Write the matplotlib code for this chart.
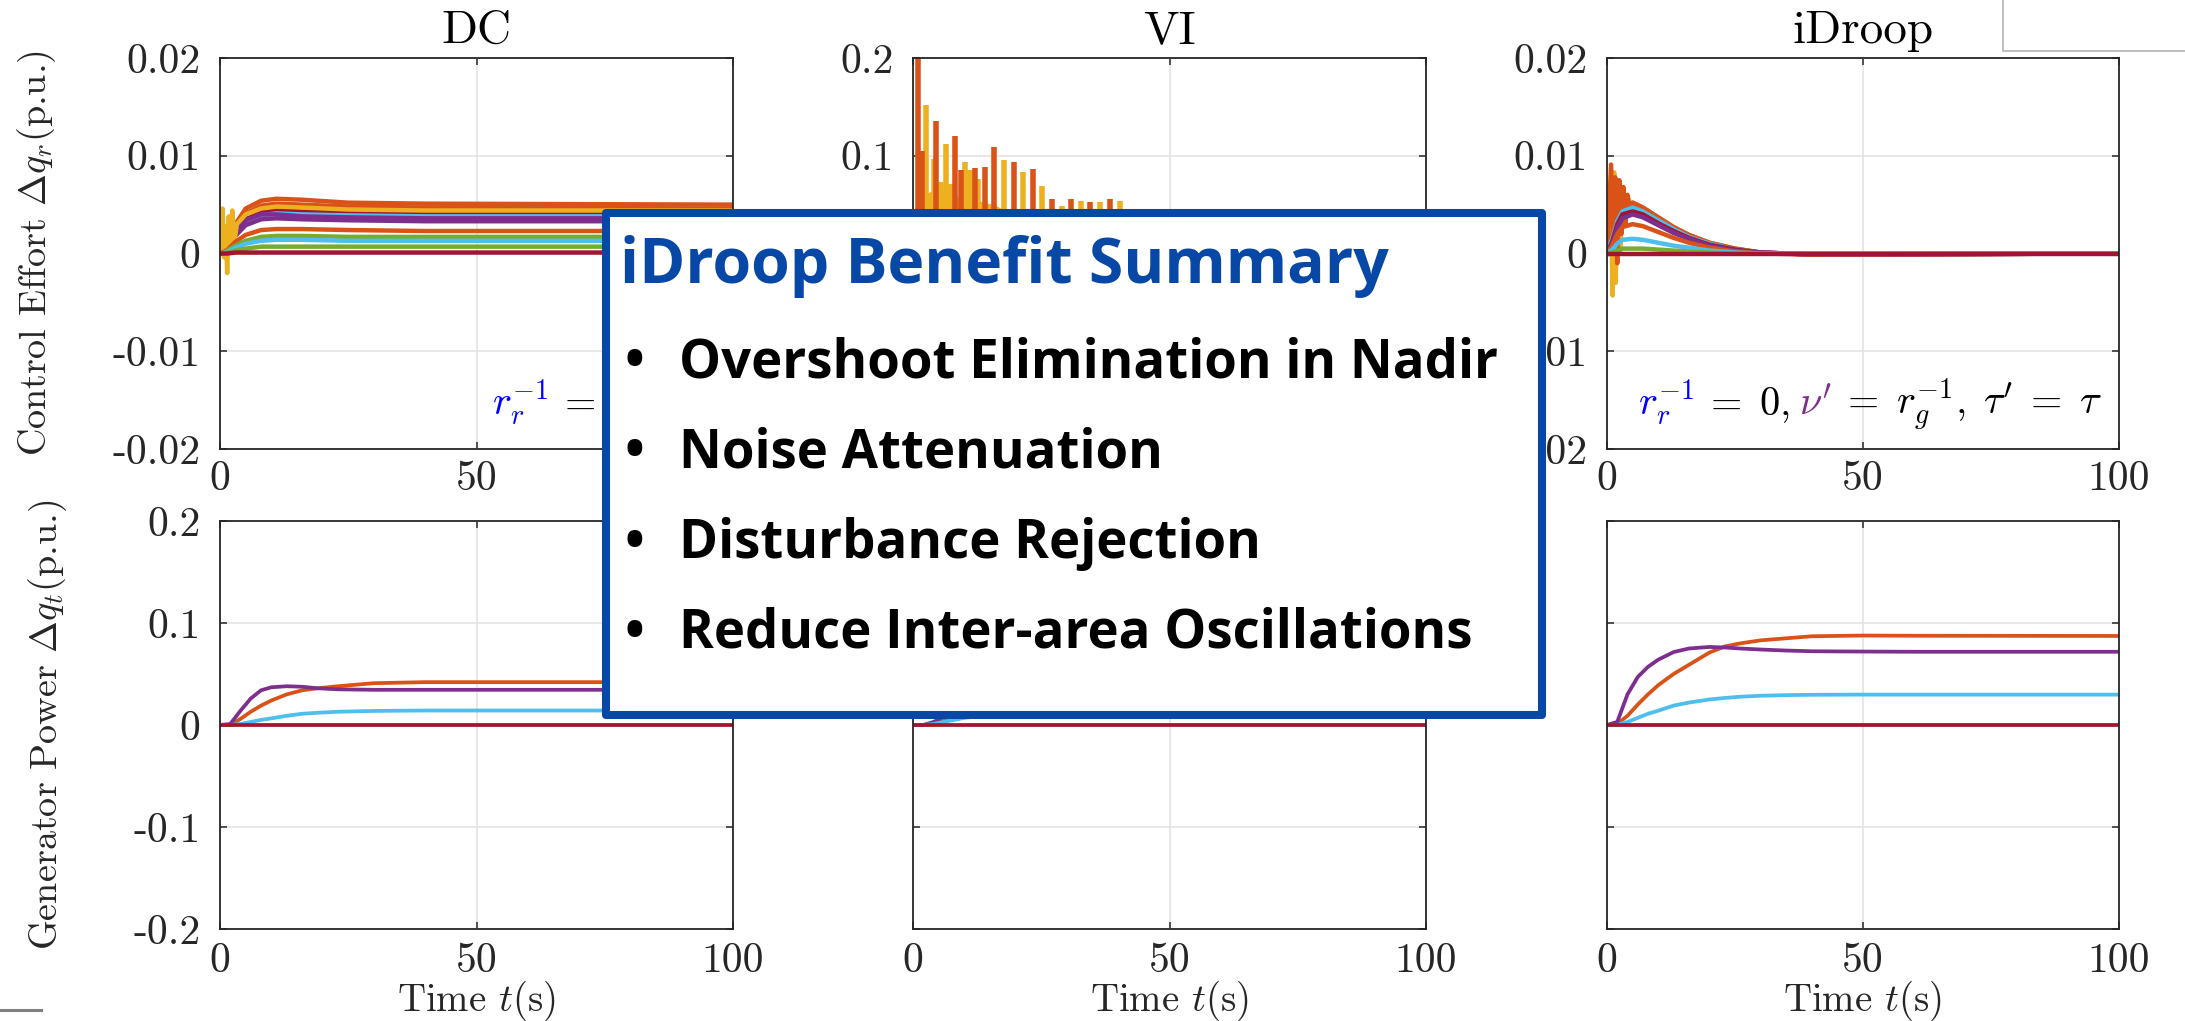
import matplotlib.pyplot as plt
from matplotlib.patches import Rectangle
from matplotlib.lines import Line2D

plt.rcParams['font.family'] = 'serif'
plt.rcParams['font.serif'] = ['cmr10']
plt.rcParams['mathtext.fontset'] = 'cm'
plt.rcParams['axes.unicode_minus'] = False

# MATLAB default line colours
BLUE = '#0072BD'
ORANGE = '#D95319'
YELLOW = '#EDB120'
PURPLE = '#7E2F8E'
GREEN = '#77AC30'
CYAN = '#4DBEEE'
RED = '#A2142F'
INK = '#262626'
BOX_BLUE = '#0747A6'

# ---- top row: control effort dq_r ----
# DC: each bus settles to its own offset
dc_eff_t = [0, 0.5, 1.5, 3, 5, 8, 11, 16, 25, 40, 100]
dc_eff_rows = [
    [0, 0.0002, 0.0012, 0.0030, 0.0046, 0.0054, 0.0056, 0.0055, 0.0052, 0.0051, 0.0050],
    [0, 0.0002, 0.0010, 0.0027, 0.0041, 0.0049, 0.0051, 0.0050, 0.0048, 0.0047, 0.0046],
    [0, 0.0001, 0.0008, 0.0022, 0.0035, 0.0042, 0.0044, 0.0043, 0.0042, 0.0041, 0.0041],
    [0, 0.0001, 0.0007, 0.0020, 0.0032, 0.0039, 0.0041, 0.0040, 0.0039, 0.0038, 0.0038],
    [0, 0.0001, 0.0008, 0.0022, 0.0034, 0.0040, 0.0040, 0.0038, 0.0037, 0.0036, 0.0036],
    [0, 0.0001, 0.0006, 0.0018, 0.0029, 0.0035, 0.0036, 0.0035, 0.0034, 0.0033, 0.0033],
    [0, 0.0001, 0.0004, 0.0012, 0.0019, 0.0024, 0.0025, 0.0025, 0.0024, 0.0023, 0.0023],
    [0, 0.0000, 0.0003, 0.0008, 0.0013, 0.0017, 0.0018, 0.0018, 0.0017, 0.0017, 0.0017],
    [0, 0.0000, 0.0002, 0.0006, 0.0010, 0.0013, 0.0014, 0.0014, 0.0013, 0.0013, 0.0013],
    [0, 0.0000, 0.0001, 0.0003, 0.0005, 0.0007, 0.0007, 0.0007, 0.0007, 0.0007, 0.0007],
    [0, 0.0000, 0.0000, 0.0001, 0.0001, 0.0001, 0.0001, 0.0001, 0.0001, 0.0001, 0.0001],
]
dc_eff_colors = [ORANGE, ORANGE, RED, CYAN, PURPLE, PURPLE, ORANGE, GREEN, CYAN, GREEN, RED]
dc_spike_t = [0, 0.5, 0.8, 1.1, 1.4, 1.7, 2.0, 2.4, 2.8, 3.3, 5, 8, 11, 16, 25, 40, 100]
dc_spike_v = [0, 0.0046, -0.0004, 0.0028, -0.0020, 0.0038, 0.0002, 0.0044, 0.0012,
              0.0030, 0.0040, 0.0046, 0.0048, 0.0047, 0.0045, 0.0044, 0.0044]

# VI: oscillating peaks on the virtual inertia buses
vi_orange_t = [0.9, 1.7, 4.5, 8.2, 9.4, 12.1, 14.0, 15.8, 19.6, 23.3, 27.1, 30.8, 34.6, 38.4, 42.0]
vi_orange_h = [0.200, 0.105, 0.136, 0.120, 0.085, 0.087, 0.089, 0.109, 0.094, 0.086,
               0.056, 0.056, 0.053, 0.056, 0.046]
vi_yellow_t = [1.4, 2.5, 4.0, 5.5, 6.4, 7.5, 10.2, 11.1, 12.7, 17.7, 21.5, 25.2, 29.0, 32.7, 36.5, 40.3]
vi_yellow_h = [0.065, 0.152, 0.097, 0.073, 0.112, 0.071, 0.094, 0.085, 0.076, 0.096,
               0.083, 0.069, 0.049, 0.054, 0.053, 0.054]
vi_band_t = [0.5, 2, 4, 6, 8, 10, 12, 14, 16, 17.5]
vi_band_v = [0.065, 0.060, 0.065, 0.062, 0.058, 0.060, 0.055, 0.052, 0.050, 0.045]

# iDroop: effort decays back to zero
id_eff_t = [0, 1, 2, 3, 5, 7, 10, 13, 16, 20, 25, 30, 40, 100]
id_eff_rows = [
    [0, 0.0020, 0.0040, 0.0050, 0.0052, 0.0047, 0.0037, 0.0027, 0.0019, 0.0011, 0.0005, 0.0001, -0.0001, 0],
    [0, 0.0015, 0.0033, 0.0043, 0.0047, 0.0043, 0.0034, 0.0025, 0.0017, 0.0010, 0.0004, 0.0001, -0.0001, 0],
    [0, 0.0012, 0.0030, 0.0040, 0.0043, 0.0040, 0.0031, 0.0023, 0.0016, 0.0009, 0.0004, 0.0001, -0.0001, 0],
    [0, 0.0010, 0.0026, 0.0036, 0.0040, 0.0037, 0.0029, 0.0021, 0.0015, 0.0008, 0.0003, 0.0001, -0.0001, 0],
    [0, 0.0008, 0.0020, 0.0027, 0.0030, 0.0028, 0.0022, 0.0016, 0.0011, 0.0006, 0.0002, 0.0000, -0.0001, 0],
    [0, 0.0004, 0.0010, 0.0014, 0.0015, 0.0014, 0.0011, 0.0008, 0.0006, 0.0003, 0.0001, 0.0000, 0.0000, 0],
    [0, 0.0001, 0.0003, 0.0005, 0.0005, 0.0005, 0.0004, 0.0003, 0.0002, 0.0001, 0.0000, 0.0000, 0.0000, 0],
    [0, 0.0000, 0.0000, 0.0000, 0.0000, 0.0000, 0.0000, 0.0000, 0.0000, 0.0000, 0.0000, 0.0000, 0.0000, 0],
]
id_eff_colors = [ORANGE, CYAN, RED, PURPLE, ORANGE, CYAN, GREEN, RED]
id_yellow_t = [0, 0.8, 1.1, 1.4, 1.7, 2.1, 2.6, 3.1, 3.6, 4.1, 4.6, 5.2, 7, 10, 13, 16, 20, 25, 30, 40, 100]
id_yellow_v = [0, 0.0040, -0.0043, 0.0083, -0.0030, 0.0070, 0.0000, 0.0068, 0.0035, 0.0058, 0.0040,
               0.0050, 0.0046, 0.0036, 0.0026, 0.0018, 0.0010, 0.0004, 0.0001, -0.0001, 0]
id_orange_t = [0, 0.8, 1.2, 1.6, 2.0, 2.4, 2.8, 3.2, 3.6, 4.0, 4.5, 5.0, 7, 10, 13, 16, 20, 25, 30, 40, 100]
id_orange_v = [0, 0.0091, 0.0010, 0.0078, -0.0010, 0.0075, 0.0020, 0.0068, 0.0030, 0.0060, 0.0045,
               0.0052, 0.0047, 0.0037, 0.0027, 0.0019, 0.0011, 0.0005, 0.0001, -0.0001, 0]

# ---- bottom row: generator power dq_t ----
dc_gen_t = [0, 2, 4, 6, 8, 10, 13, 16, 19, 23, 30, 40, 60, 100]
dc_gen_orange = [0, 0, 0.006, 0.013, 0.019, 0.024, 0.030, 0.034, 0.036, 0.038, 0.041, 0.042, 0.042, 0.042]
dc_gen_purple = [0, 0.001, 0.014, 0.026, 0.034, 0.037, 0.038, 0.0375, 0.036, 0.035, 0.0345, 0.0345, 0.0345, 0.0345]
dc_gen_cyan = [0, 0, 0.001, 0.003, 0.005, 0.0065, 0.009, 0.011, 0.012, 0.013, 0.0138, 0.0142, 0.0142, 0.0142]

vi_gen_t = [0, 2, 4, 6, 8, 10, 15, 20, 30, 50, 100]
vi_gen_orange = [0, 0, 0.001, 0.004, 0.008, 0.012, 0.022, 0.030, 0.038, 0.041, 0.042]
vi_gen_purple = [0, 0, 0.003, 0.008, 0.015, 0.022, 0.032, 0.036, 0.035, 0.034, 0.034]
vi_gen_cyan = [0, 0, 0.001, 0.003, 0.005, 0.007, 0.010, 0.012, 0.014, 0.014, 0.014]

id_gen_t = [0, 2, 4, 6, 8, 10, 13, 16, 20, 23, 26, 30, 35, 40, 50, 60, 100]
id_gen_orange = [0, 0.001, 0.009, 0.020, 0.030, 0.039, 0.050, 0.059, 0.071, 0.077, 0.080, 0.083,
                 0.085, 0.087, 0.0877, 0.0875, 0.0873]
id_gen_purple = [0, 0.003, 0.030, 0.047, 0.057, 0.064, 0.0715, 0.075, 0.0765, 0.076, 0.075, 0.074,
                 0.073, 0.0723, 0.072, 0.0718, 0.0718]
id_gen_cyan = [0, 0, 0.003, 0.007, 0.011, 0.014, 0.019, 0.022, 0.025, 0.0265, 0.0277, 0.0287,
               0.0293, 0.0296, 0.0298, 0.0298, 0.0298]

titles = ['DC', 'VI', 'iDroop']
time_labels = ['0', '50', '100']
effort_ticks = [-0.02, -0.01, 0, 0.01, 0.02]
effort_labels = ['-0.02', '-0.01', '0', '0.01', '0.02']
power_ticks = [-0.2, -0.1, 0, 0.1, 0.2]
power_labels = ['-0.2', '-0.1', '0', '0.1', '0.2']
summary_title = 'iDroop Benefit Summary'
summary_items = ['Overshoot Elimination in Nadir', 'Noise Attenuation',
                 'Disturbance Rejection', 'Reduce Inter-area Oscillations']

W, H = 2185, 1021
fig = plt.figure(figsize=(W / 100, H / 100), dpi=100)


def axes_px(x0, x1, y0, y1):
    return fig.add_axes([x0 / W, 1 - y1 / H, (x1 - x0) / W, (y1 - y0) / H])


def style(ax, ticks, ylabels, xlabels, xpad=10):
    ax.set_xlim(0, 100)
    ax.set_ylim(ticks[0], ticks[-1])
    ax.set_xticks([0, 50, 100])
    ax.set_xticklabels(xlabels)
    ax.set_yticks(ticks)
    ax.set_yticklabels(ylabels)
    ax.grid(True, color='#e2e2e2', linewidth=1.1)
    ax.set_axisbelow(True)
    ax.tick_params(direction='in', length=5, width=1.1, color=INK, top=True, right=True,
                   labelsize=30, labelcolor=INK)
    ax.tick_params(axis='y', pad=14)
    ax.tick_params(axis='x', pad=xpad)
    for sp in ax.spines.values():
        sp.set_color(INK)
        sp.set_linewidth(1.3)


def colored_text(ax, x, y, pieces, size):
    prev = ax.text(x, y, pieces[0][0], color=pieces[0][1], fontsize=size, va='baseline', ha='left')
    for s, c in pieces[1:]:
        prev = ax.annotate(s, xy=(1, y), xycoords=(prev, 'data'), color=c, fontsize=size,
                           va='baseline', ha='left')


cols = [(220, 733), (913, 1426), (1607, 2119)]
top = [axes_px(x0, x1, 58, 449) for x0, x1 in cols]
bot = [axes_px(x0, x1, 521, 929) for x0, x1 in cols]

lw_top = 3.2
lw_bot = 2.7

# DC control effort
ax = top[0]
for row, c in zip(dc_eff_rows[:6], dc_eff_colors[:6]):
    ax.plot(dc_eff_t, row, color=c, lw=lw_top)
ax.plot(dc_spike_t, dc_spike_v, color=YELLOW, lw=lw_top)
for row, c in zip(dc_eff_rows[6:], dc_eff_colors[6:]):
    ax.plot(dc_eff_t, row, color=c, lw=lw_top)
colored_text(ax, 53, -0.0165, [(r'$r_r^{-1}$', 'blue'), (r'$\;=\;0$', 'black')], 29)

# VI control effort
ax = top[1]
ax.fill_between(vi_band_t, 0, vi_band_v, color=YELLOW, lw=0)
ax.vlines(vi_yellow_t, 0, vi_yellow_h, color=YELLOW, lw=4)
ax.vlines(vi_orange_t, 0, vi_orange_h, color=ORANGE, lw=4)
ax.axhline(0, color=RED, lw=lw_top)

# iDroop control effort
ax = top[2]
ax.plot(id_yellow_t, id_yellow_v, color=YELLOW, lw=lw_top)
ax.plot(id_orange_t, id_orange_v, color=ORANGE, lw=lw_top)
for row, c in zip(id_eff_rows, id_eff_colors):
    ax.plot(id_eff_t, row, color=c, lw=lw_top)
colored_text(ax, 6, -0.0165, [(r'$r_r^{-1}$', 'blue'), (r'$\;=\;0,$', 'black'),
                              (r"$\;\nu'$", PURPLE), (r"$\;=\;r_g^{-1},\;\tau'\;=\;\tau$", 'black')], 29)

# generator power
for ax, t, o, p, cy in [(bot[0], dc_gen_t, dc_gen_orange, dc_gen_purple, dc_gen_cyan),
                        (bot[1], vi_gen_t, vi_gen_orange, vi_gen_purple, vi_gen_cyan),
                        (bot[2], id_gen_t, id_gen_orange, id_gen_purple, id_gen_cyan)]:
    ax.plot(t, o, color=ORANGE, lw=lw_bot)
    ax.plot(t, p, color=PURPLE, lw=lw_bot)
    ax.plot(t, cy, color=CYAN, lw=lw_bot)
    ax.plot([0, 100], [0, 0], color=RED, lw=lw_bot)

# labels that sit underneath the call-out box are left blank
style(top[0], effort_ticks, effort_labels, ['0', '50', ''], xpad=8)
style(top[1], power_ticks, ['', '', '', '0.1', '0.2'], ['', '', ''], xpad=8)
style(top[2], effort_ticks, effort_labels, time_labels, xpad=8)
for ax, name in zip(top, titles):
    ax.set_title(name, fontsize=34, pad=11, color='black')
for i, ax in enumerate(bot):
    style(ax, power_ticks, power_labels if i == 0 else [''] * 5, time_labels, xpad=10)
    ax.set_xlabel(r'Time $t$(s)', fontsize=28, labelpad=-1, color=INK)

top[0].set_ylabel(r'Control Effort $\Delta q_r$(p.u.)', fontsize=27.5, color=INK)
top[0].yaxis.set_label_coords(-0.315, 0.5)
bot[0].set_ylabel(r'Generator Power $\Delta q_t$(p.u.)', fontsize=27.5, color=INK)
bot[0].yaxis.set_label_coords(-0.295, 0.5)

# summary call-out box
fig.patches.append(Rectangle((606 / W, 1 - 715 / H), 936 / W, 502 / H, transform=fig.transFigure,
                             facecolor='white', edgecolor=BOX_BLUE, lw=5.8, joinstyle='round',
                             zorder=10))
fig.text(620 / W, 1 - 283 / H, summary_title, family='Open Sans', weight='bold', fontsize=45,
         color=BOX_BLUE, va='baseline', zorder=11)
for k, item in enumerate(summary_items):
    yb = 1 - (377 + 90.3 * k) / H
    fig.text(634 / W, yb, '\u2022', family='Open Sans', weight='bold', fontsize=38,
             color='black', va='baseline', ha='center', zorder=11)
    fig.text(679 / W, yb, item, family='Open Sans', weight='bold', fontsize=38,
             color='black', va='baseline', zorder=11)

# stray frame in the upper right corner and rule at bottom left
fig.patches.append(Rectangle((2003 / W, 1 - 51 / H), 300 / W, 100 / H, transform=fig.transFigure,
                             facecolor='white', edgecolor='#b4b4b4', lw=1.2, zorder=1))
fig.lines.append(Line2D([0, 41 / W], [1 - 1010 / H, 1 - 1010 / H], transform=fig.transFigure,
                        color='#7f7f7f', lw=2.2))

fig.savefig('out.png', dpi=100, facecolor='white')
